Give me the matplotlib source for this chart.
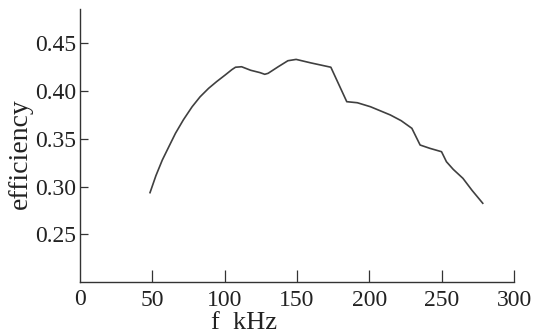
import matplotlib
matplotlib.use('Agg')
import matplotlib.pyplot as plt

# efficiency vs frequency
freq_khz = [48.4, 52.5, 56.9, 61.5, 66.0, 71.5, 77.5, 83.0, 88.9, 94.5, 100.3, 105.0, 107.5, 111.7,
            118.0, 124.3, 127.7, 130.0, 137.0, 143.7, 149.4, 159.7, 173.4,
            184.4, 191.7, 200.8, 214.5, 222.0, 229.4, 235.1, 241.9, 249.9,
            253.3, 258.0, 264.7, 271.0, 278.4]
efficiency = [0.2936, 0.3115, 0.3278, 0.3420, 0.3558, 0.3700, 0.3836, 0.3940, 0.4029, 0.4100, 0.4168, 0.4225, 0.4250, 0.4255,
              0.4218, 0.4194, 0.4176, 0.4186, 0.4255, 0.4318, 0.4332, 0.4295, 0.4250,
              0.3889, 0.3878, 0.3836, 0.3750, 0.3690, 0.3610, 0.3435, 0.3400, 0.3365,
              0.3260, 0.3180, 0.3086, 0.2960, 0.2825]

x_ticks = [50, 100, 150, 200, 250, 300]
x_ticklabels = ['50', '100', '150', '200', '250', '300']
y_ticks = [0.25, 0.30, 0.35, 0.40, 0.45]

plt.rcParams['font.family'] = ['Liberation Serif', 'DejaVu Serif']

fig = plt.figure(figsize=(5.35, 3.36), dpi=100)
ax = fig.add_axes([80 / 535, 1 - 282 / 336, (514 - 80) / 535, (282 - 9) / 336])

ax.plot(freq_khz, efficiency, color='#404040', linewidth=1.2)

ax.set_xlim(0, 300)
ax.set_ylim(0.2, 0.486)
ax.set_xticks(x_ticks)
ax.set_xticklabels(x_ticklabels)
ax.set_yticks(y_ticks)
ax.set_yticklabels(['%.2f' % v for v in y_ticks])
ax.text(0, -0.025, '0', transform=ax.get_xaxis_transform(), ha='center', va='top',
        fontsize=17, color='#222222')

for side in ['top', 'right']:
    ax.spines[side].set_visible(False)
for side in ['left', 'bottom']:
    ax.spines[side].set_color('#333333')
    ax.spines[side].set_linewidth(1.0)

ax.tick_params(axis='x', direction='in', length=9, width=0.9, color='#333333',
               labelsize=17, labelcolor='#222222', pad=6)
ax.tick_params(axis='y', direction='in', length=6, width=0.9, color='#333333',
               labelsize=17, labelcolor='#222222', pad=3)

ax.set_xlabel('f  kHz', fontsize=19, color='#222222')
ax.set_ylabel('efficiency', fontsize=20, color='#222222')
ax.xaxis.set_label_coords(0.378, -0.11)
ax.yaxis.set_label_coords(-0.108, 0.47)

fig.savefig('out.png', dpi=100)
